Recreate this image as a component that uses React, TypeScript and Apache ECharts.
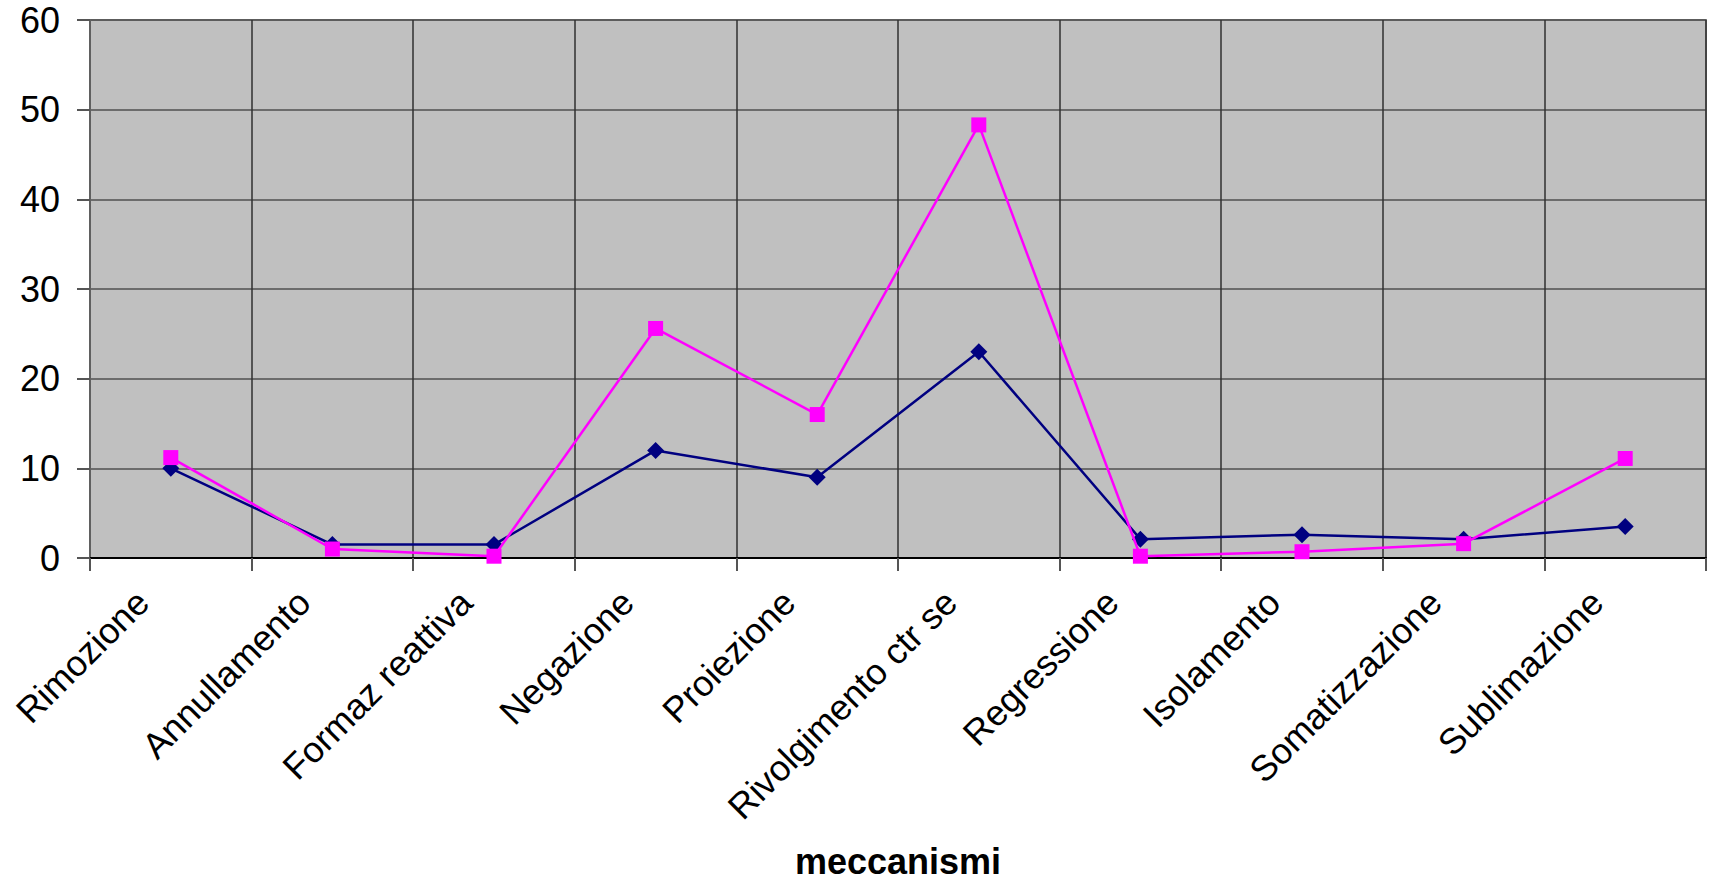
import React, { useEffect, useRef } from "react";
import * as echarts from "echarts";

// Defence mechanisms on the category axis
const categories = [
  "Rimozione",
  "Annullamento",
  "Formaz reattiva",
  "Negazione",
  "Proiezione",
  "Rivolgimento ctr se",
  "Regressione",
  "Isolamento",
  "Somatizzazione",
  "Sublimazione",
];

// Navy series (diamond markers)
const seriesNavy = [10, 1.5, 1.5, 12, 9, 23, 2.1, 2.6, 2.1, 3.5];

// Magenta series (square markers)
const seriesMagenta = [11.2, 1, 0.2, 25.6, 16, 48.3, 0.2, 0.7, 1.6, 11.1];

const yTicks = { min: 0, max: 60, interval: 10 };
const xAxisTitle = "meccanismi";

const FONT = "'Liberation Sans', Arial, sans-serif";

export default function App() {
  const ref = useRef<HTMLDivElement>(null);

  useEffect(() => {
    if (!ref.current) return;
    const chart = echarts.init(ref.current, null, { renderer: "svg" });
    chart.setOption({
      animation: false,
      backgroundColor: "#ffffff",
      grid: {
        left: 90,
        right: 4,
        top: 20,
        bottom: 322,
        containLabel: false,
        outerBoundsMode: "none",
        show: true,
        backgroundColor: "#c0c0c0",
        borderColor: "#808080",
        borderWidth: 2,
      },
      xAxis: {
        type: "category",
        data: categories,
        boundaryGap: true,
        name: xAxisTitle,
        nameLocation: "middle",
        nameGap: 285,
        nameTextStyle: {
          fontFamily: FONT,
          fontSize: 36,
          lineHeight: 36,
          fontWeight: "bold",
          color: "#000",
        },
        axisLine: { show: true, lineStyle: { color: "#000", width: 2 } },
        axisTick: {
          show: true,
          inside: false,
          length: 13,
          alignWithLabel: false,
          lineStyle: { color: "#555", width: 2 },
        },
        axisLabel: {
          interval: 0,
          rotate: 45,
          margin: 10,
          padding: [0, 40, 0, 0],
          fontFamily: FONT,
          fontSize: 36,
          color: "#000",
        },
        splitLine: { show: true, lineStyle: { color: "#303030", width: 1.5 } },
      },
      yAxis: {
        type: "value",
        min: yTicks.min,
        max: yTicks.max,
        interval: yTicks.interval,
        axisLine: { show: true, lineStyle: { color: "#606060", width: 2 } },
        axisTick: {
          show: true,
          inside: false,
          length: 13,
          lineStyle: { color: "#555", width: 2 },
        },
        axisLabel: {
          margin: 30,
          fontFamily: FONT,
          fontSize: 36,
          color: "#000",
        },
        splitLine: { show: true, lineStyle: { color: "#505050", width: 1.5 } },
      },
      series: [
        {
          type: "line",
          data: seriesNavy,
          symbol: "diamond",
          symbolSize: [17, 17],
          lineStyle: { color: "#000080", width: 2.5 },
          itemStyle: { color: "#000080" },
          z: 3,
        },
        {
          type: "line",
          data: seriesMagenta,
          symbol: "rect",
          symbolSize: [15, 15],
          lineStyle: { color: "#ff00ff", width: 2.5 },
          itemStyle: { color: "#ff00ff" },
          z: 4,
        },
      ],
    });
    return () => chart.dispose();
  }, []);

  return (
    <div
      ref={ref}
      style={{ position: "fixed", left: 0, top: 0, width: 1710, height: 880 }}
    />
  );
}
